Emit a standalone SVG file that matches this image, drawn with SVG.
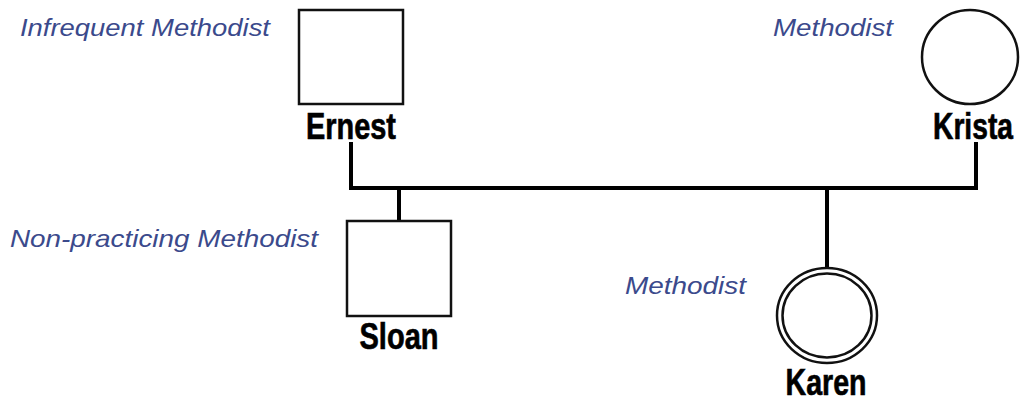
<svg xmlns="http://www.w3.org/2000/svg" width="1020" height="401" viewBox="0 0 1020 401">
  <style>
    .shape { fill: #ffffff; stroke: #111111; stroke-width: 2.5; }
    .link { fill: none; stroke: #000000; stroke-width: 4; stroke-linejoin: miter; }
    .name { font-family: "Liberation Sans", Arial, sans-serif; font-weight: bold; font-size: 28px; fill: #000000; stroke: #000000; stroke-width: 0.5; text-anchor: middle; }
    .faith { font-family: "Liberation Sans", Arial, sans-serif; font-style: italic; font-size: 24px; fill: #3b4a8c; }
  </style>
  <rect width="1020" height="401" fill="#ffffff"/>

  <!-- family connectors -->
  <g id="connectors">
    <path class="link" d="M351 142 V188 H976 V142"/>
    <path class="link" d="M399 188 V221"/>
    <path class="link" d="M827 188 V268"/>
  </g>

  <g id="ernest">
    <rect class="shape" x="299" y="10" width="104" height="94"/>
    <text class="name" transform="translate(351 139) scale(1 1.3)" textLength="90" lengthAdjust="spacingAndGlyphs">Ernest</text>
    <text class="faith" x="20" y="36" textLength="250" lengthAdjust="spacingAndGlyphs">Infrequent Methodist</text>
  </g>

  <g id="krista">
    <ellipse class="shape" cx="970" cy="57" rx="48" ry="47"/>
    <text class="name" transform="translate(973 139) scale(1 1.3)" textLength="80" lengthAdjust="spacingAndGlyphs">Krista</text>
    <text class="faith" x="773" y="36" textLength="120" lengthAdjust="spacingAndGlyphs">Methodist</text>
  </g>

  <g id="sloan">
    <rect class="shape" x="347" y="221" width="104" height="95"/>
    <text class="name" transform="translate(399 349) scale(1 1.3)" textLength="79" lengthAdjust="spacingAndGlyphs">Sloan</text>
    <text class="faith" x="10" y="247" textLength="308" lengthAdjust="spacingAndGlyphs">Non-practicing Methodist</text>
  </g>

  <g id="karen">
    <ellipse class="shape" cx="827" cy="315.5" rx="50" ry="47.5"/>
    <ellipse class="shape" cx="827" cy="315.5" rx="44.5" ry="42"/>
    <text class="name" transform="translate(826 395) scale(1 1.3)" textLength="81" lengthAdjust="spacingAndGlyphs">Karen</text>
    <text class="faith" x="625" y="294" textLength="121" lengthAdjust="spacingAndGlyphs">Methodist</text>
  </g>
</svg>
